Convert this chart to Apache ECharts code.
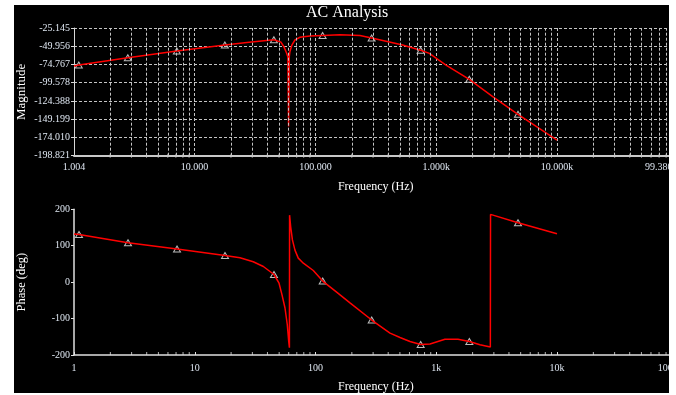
<!DOCTYPE html>
<html>
<head>
<meta charset="utf-8">
<script src="https://cdn.jsdelivr.net/npm/echarts@6/dist/echarts.min.js"></script>
<style>
  html, body { margin: 0; padding: 0; background: #fff; }
  #panel { position: absolute; left: 14px; top: 5px; width: 655px; height: 388px; background: #000; overflow: hidden; }
  #chart { position: absolute; left: 0; top: 0; width: 680px; height: 388px; }
</style>
</head>
<body>
<div id="panel"><div id="chart"></div></div>
<script>
// magnitude trace (Hz, dB)
const magFreq = [1.004, 1.10, 2.80, 7.13, 17.8, 28.3, 45.3, 51.8, 54.8, 57.7, 59.2, 60.0, 60.8, 61.5, 63.9, 67.6, 74.4, 90, 114.7, 159.6, 233.7, 292, 527, 743, 877, 1205, 1879, 2934, 4752, 10000];
const magDb = [-76.8, -75.5, -65.5, -56.4, -48.3, -44.5, -41.1, -44.2, -50.6, -59.2, -64.6, -159, -64.0, -57.4, -48.3, -41.5, -37.8, -36.0, -35.3, -34.3, -35.3, -38.8, -48.3, -55.5, -59.6, -75.5, -94.9, -118.6, -142.5, -177.5];

// phase trace (Hz, deg)
const phaseFreq = [1.0, 1.10, 2.80, 7.13, 17.8, 23.7, 30.5, 37, 45.3, 49.9, 52.8, 55.9, 58.4, 60.0, 60.8, 61.0, 62.3, 64.4, 67.6, 72, 79.3, 95.9, 114.7, 147.8, 193, 292, 414, 501, 606, 743, 888, 1181, 1513, 1879, 2303, 2805, 2815, 4752, 10000];
const phaseDeg = [132, 131, 108, 91, 73, 67, 56, 43, 21, -3, -35, -71, -117, -163, -180, 184, 152, 116, 88, 66, 52, 32, 3, -26, -57, -104, -140, -152, -163, -171, -170, -157, -157, -163, -172, -178, 186, 163, 133];

// cursor triangles
const markFreq = [1.10, 2.80, 7.13, 17.8, 45.3, 114.7, 292, 743, 1879, 4752];
const markMag = [-75.5, -65.5, -56.4, -48.3, -41.1, -35.3, -38.8, -55.5, -94.9, -142.5];
const markPhase = [131, 108, 91, 73, 21, 3, -104, -171, -163, 163];

// axis ticks
const magTicks = [-198.821, -174.010, -149.199, -124.388, -99.578, -74.767, -49.956, -25.145];
const phaseTicks = [-200, -100, 0, 100, 200];
const minorFreq = [2, 3, 4, 5, 6, 7, 8, 9,
  20, 30, 40, 50, 60, 70, 80, 90,
  200, 300, 400, 500, 600, 700, 800, 900,
  2000, 3000, 4000, 5000, 6000, 7000, 8000, 9000,
  20000, 30000, 40000, 50000, 60000, 70000, 80000, 90000];

const serif = "'Liberation Serif', 'DejaVu Serif', serif";
const labelColor = '#dfe7f2';
const gridColor = '#c4c4c4';
const red = '#ff0000';

function zip(xs, ys) {
  return xs.map((x, i) => [x, ys[i]]);
}

function freqFmt3(v) {
  if (v >= 1000) return (v / 1000).toFixed(3) + 'k';
  return v.toFixed(3);
}

function freqFmt(v) {
  if (v >= 1000) return Math.round(v / 1000) + 'k';
  return String(Math.round(v));
}

const chart = echarts.init(document.getElementById('chart'));

const option = {
  backgroundColor: '#000',
  animation: false,
  title: {
    text: 'AC Analysis',
    left: 292,
    top: 0,
    padding: 0,
    textStyle: { color: '#fff', fontFamily: serif, fontSize: 16, fontWeight: 'normal' }
  },
  grid: [
    { left: 60, top: 23, width: 603.5, height: 127.7, outerBoundsMode: 'none', containLabel: false },
    { left: 60, top: 204.3, width: 603.75, height: 145.7, outerBoundsMode: 'none', containLabel: false }
  ],
  xAxis: [
    {
      type: 'log', logBase: 10, gridIndex: 0, min: 1.004, max: 99380,
      name: 'Frequency (Hz)', nameLocation: 'middle', nameGap: 25,
      nameTextStyle: { color: '#fff', fontFamily: serif, fontSize: 12 },
      axisLine: { onZero: false, lineStyle: { color: '#c8c8c8', width: 2 } },
      axisTick: { show: false },
      axisLabel: { color: labelColor, fontFamily: serif, fontSize: 10, margin: 7, formatter: freqFmt3, alignMaxLabel: 'right' },
      splitLine: { show: true, lineStyle: { color: gridColor, type: [3, 2], width: 1 } }
    },
    {
      type: 'log', logBase: 10, gridIndex: 1, min: 1, max: 100000,
      name: 'Frequency (Hz)', nameLocation: 'middle', nameGap: 25.7,
      nameTextStyle: { color: '#fff', fontFamily: serif, fontSize: 12 },
      axisLine: { onZero: false, lineStyle: { color: '#e0e0e0', width: 1.5 } },
      axisTick: { show: true, inside: true, length: 3, lineStyle: { color: '#e0e0e0' } },
      axisLabel: { color: labelColor, fontFamily: serif, fontSize: 10, margin: 8, formatter: freqFmt, alignMaxLabel: 'right' },
      splitLine: { show: false }
    }
  ],
  yAxis: [
    {
      type: 'value', gridIndex: 0, min: -198.821, max: -25.145,
      name: 'Magnitude', nameLocation: 'middle', nameGap: 45.5, nameMoveOverlap: false,
      nameTextStyle: { color: '#fff', fontFamily: serif, fontSize: 13 },
      axisLine: { show: true, onZero: false, lineStyle: { color: '#d8d8d8', width: 1 } },
      axisTick: { show: true, length: 3, customValues: magTicks, lineStyle: { color: '#d8d8d8' } },
      axisLabel: { color: labelColor, fontFamily: serif, fontSize: 10, margin: 4, customValues: magTicks, formatter: v => v.toFixed(3) },
      splitLine: { show: true, lineStyle: { color: gridColor, type: [3, 2], width: 1 } }
    },
    {
      type: 'value', gridIndex: 1, min: -200, max: 200, interval: 100,
      name: 'Phase (deg)', nameLocation: 'middle', nameGap: 45.5, nameMoveOverlap: false,
      nameTextStyle: { color: '#fff', fontFamily: serif, fontSize: 12.5 },
      axisLine: { show: true, onZero: false, lineStyle: { color: '#e0e0e0', width: 1.5 } },
      axisTick: { show: true, length: 3, lineStyle: { color: '#e0e0e0' } },
      axisLabel: { color: labelColor, fontFamily: serif, fontSize: 10, margin: 4 },
      splitLine: { show: false }
    }
  ],
  series: [
    {
      // minor log grid lines for the magnitude plot
      type: 'line', xAxisIndex: 0, yAxisIndex: 0, data: [], silent: true,
      markLine: {
        silent: true, symbol: 'none', label: { show: false }, animation: false,
        lineStyle: { color: gridColor, type: [3, 2], width: 1 },
        data: minorFreq.map(f => ({ xAxis: f }))
      }
    },
    {
      type: 'scatter', xAxisIndex: 0, yAxisIndex: 0, silent: true, clip: false,
      symbol: 'rect', symbolSize: [1, 4],
      itemStyle: { color: '#c8c8c8' },
      data: minorFreq.map(f => [f, magTicks[0]])
    },
    {
      type: 'scatter', xAxisIndex: 1, yAxisIndex: 1, silent: true, clip: false,
      symbol: 'rect', symbolSize: [1, 3], symbolOffset: [0, -1.5],
      itemStyle: { color: '#e0e0e0' },
      data: minorFreq.map(f => [f, phaseTicks[0]])
    },
    {
      name: 'Magnitude', type: 'line', xAxisIndex: 0, yAxisIndex: 0,
      showSymbol: false, lineStyle: { color: red, width: 1.5, join: 'miter' },
      data: zip(magFreq, magDb)
    },
    {
      name: 'Phase', type: 'line', xAxisIndex: 1, yAxisIndex: 1,
      showSymbol: false, lineStyle: { color: red, width: 1.5 },
      data: zip(phaseFreq, phaseDeg)
    },
    {
      type: 'scatter', xAxisIndex: 0, yAxisIndex: 0, symbol: 'triangle', symbolSize: [7, 6],
      itemStyle: { color: 'rgba(0,0,0,0)', borderColor: '#e8e8e8', borderWidth: 1 },
      data: zip(markFreq, markMag)
    },
    {
      type: 'scatter', xAxisIndex: 1, yAxisIndex: 1, symbol: 'triangle', symbolSize: [7, 6],
      itemStyle: { color: 'rgba(0,0,0,0)', borderColor: '#e8e8e8', borderWidth: 1 },
      data: zip(markFreq, markPhase)
    }
  ]
};

chart.setOption(option);
</script>
</body>
</html>
